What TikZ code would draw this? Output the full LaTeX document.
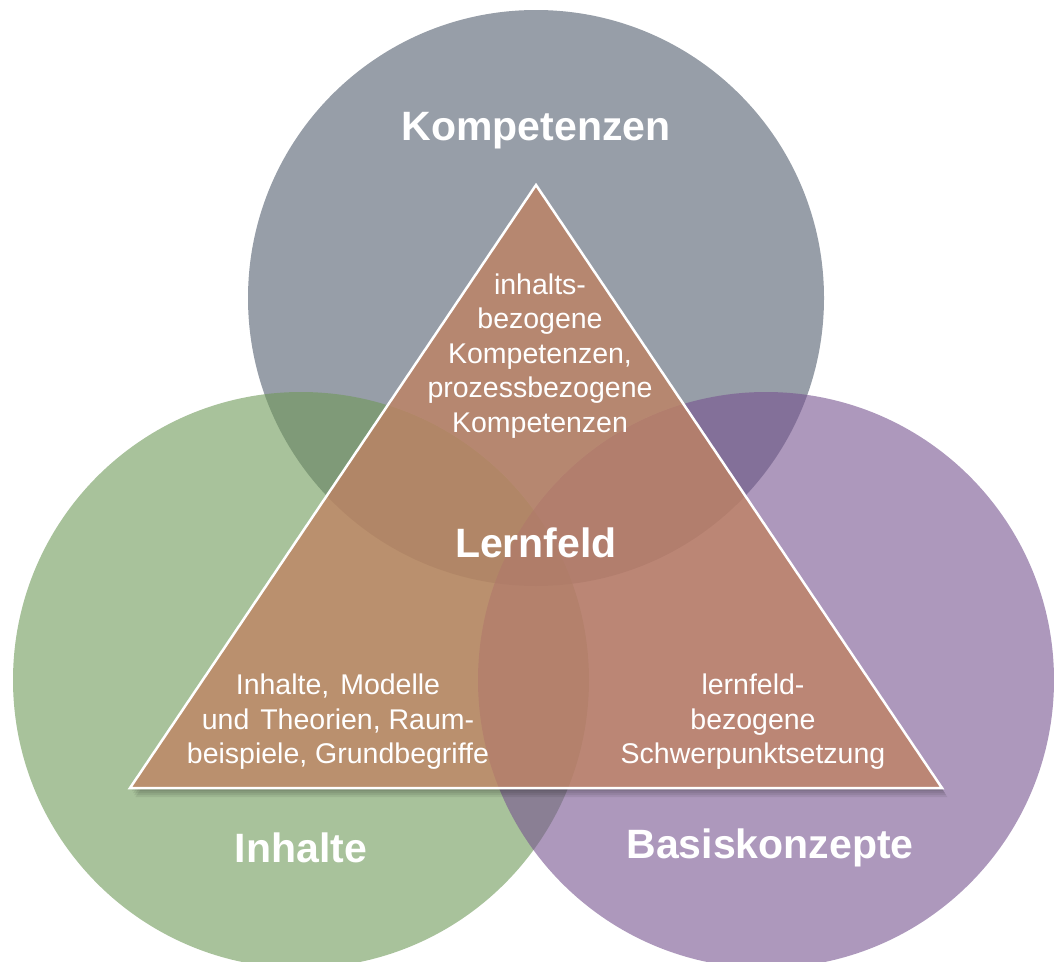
\documentclass[tikz,border=0pt]{standalone}
\usepackage{fontspec}
\setmainfont{Liberation Sans}
\usetikzlibrary{calc}

\definecolor{kompcolor}{RGB}{82,93,110}
\definecolor{inhaltcolor}{RGB}{110,153,88}
\definecolor{basiscolor}{RGB}{118,83,143}
\definecolor{lerncolor}{RGB}{192,130,98}

\begin{document}
\begin{tikzpicture}[
        %We set the units (one pixel) and define some styles
        x=1pt, y=-1pt,
        circle area/.style={fill opacity=0.6},
        triangle area/.style={fill=lerncolor, fill opacity=0.78, draw=white, line width=2.5pt},
        shadow layer/.style={fill=black, opacity=0.07},
        title/.style={text=white, font=\fontsize{41}{49}\selectfont\bfseries},
        content/.style={text=white, align=center, font=\fontsize{28.5}{34.5}\selectfont},
]
\useasboundingbox (0,0) rectangle (1054,961);
% Important coordinates are defined
    \coordinate (top) at (536,185);
    \coordinate (left) at (130,788);
    \coordinate (right) at (942,788);

    % the three circles
    \fill[kompcolor, circle area] (536,298) circle (288pt);
    \fill[inhaltcolor, circle area] (301,680) circle (288pt);
    \fill[basiscolor, circle area] (766,680) circle (288pt);

    % shadow of the triangle, kept outside of it
\begin{scope}[even odd rule]
    \clip (0,0) rectangle (1054,961) (top) -- (left) -- (right) -- cycle;
    \foreach \s in {3,5,7,9}
        \fill[shadow layer] ([shift={(0.6*\s,\s)}]top) -- ([shift={(0.6*\s,\s)}]left)
            -- ([shift={(0.6*\s,\s)}]right) -- cycle;
\end{scope}

    % the triangle
    \filldraw[triangle area] (top) -- (left) -- (right) -- cycle;

    % labels
    \node[title] (kompetenzen) at (536,131) {Kompetenzen};
    \node[title] (lernfeld) at (536,543) {Lernfeld};
    \node[title] (inhalte) at (301,848) {Inhalte};
    \node[title] (basiskonzepte) at (770,848) {Basiskonzepte};

    \node[content] (kompetenzen text) at (540,356)
        {inhalts-\\bezogene\\Kompetenzen,\\prozessbezogene\\Kompetenzen};
    \node[content] (inhalte text) at (338,722)
        {Inhalte,\hspace{11pt}Modelle\\und\hspace{11pt}Theorien, Raum-\\beispiele, Grundbegriffe};
    \node[content] (basis text) at (753,722)
        {lernfeld-\\bezogene\\Schwerpunktsetzung};
\end{tikzpicture}
\end{document}
